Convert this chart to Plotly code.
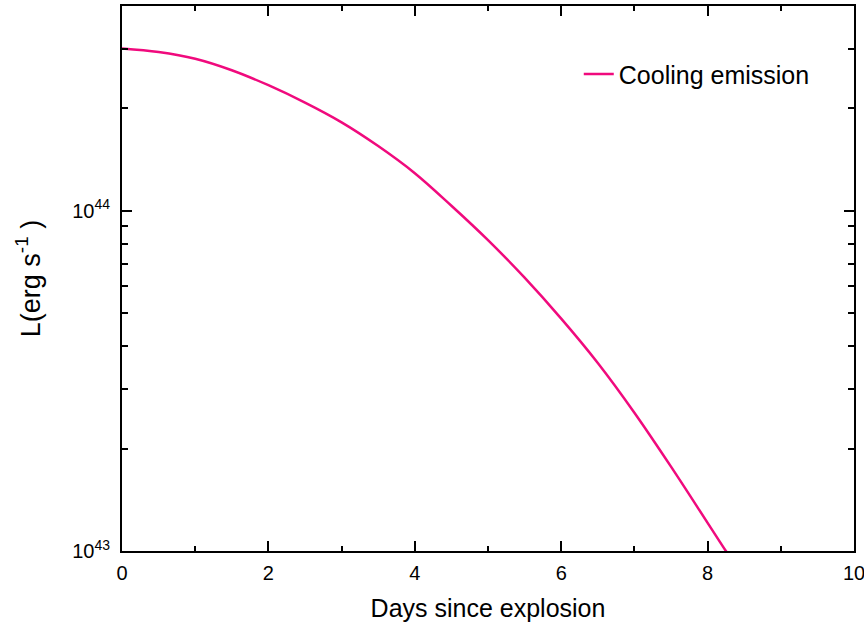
import plotly.graph_objects as go
import numpy as np

days = [0, 0.5, 1, 1.5, 2, 2.5, 3, 3.5, 4, 4.5, 5, 5.5, 6, 6.5, 7, 7.5, 8, 8.25, 8.35]
lum = [3.0e44, 2.93e44, 2.80e44, 2.59e44, 2.34e44, 2.08e44, 1.82e44, 1.55e44, 1.29e44,
       1.035e44, 8.2e43, 6.36e43, 4.82e43, 3.57e43, 2.55e43, 1.77e43, 1.21e43, 1.0e43, 0.93e43]

x_major = [0, 2, 4, 6, 8, 10]
x_minor = [1, 3, 5, 7, 9]
y_major = [1e43, 1e44]
y_major_text = ["10<sup>43</sup>", "10<sup>44</sup>"]
y_minor = [2e43, 3e43, 4e43, 5e43, 6e43, 7e43, 8e43, 9e43, 2e44, 3e44, 4e44]

fig = go.Figure()
fig.add_trace(go.Scatter(x=days, y=lum, mode="lines", name="Cooling emission",
                         line=dict(color="rgb(240,10,125)", width=2.5, shape="spline", smoothing=1.0)))

axis_common = dict(showline=True, linecolor="black", linewidth=2, mirror="ticks",
                   ticks="inside", tickcolor="black", tickwidth=2, ticklen=10,
                   showgrid=False, zeroline=False, automargin=False)

fig.update_xaxes(range=[0, 10], tickvals=x_major, ticktext=[str(v) for v in x_major],
                 tickfont=dict(size=20, color="black"), ticklabelstandoff=3,
                 ticklabeloverflow="allow",
                 title=dict(text="Days since explosion", font=dict(size=25, color="black"), standoff=16),
                 minor=dict(tickvals=x_minor, ticks="inside", ticklen=5, tickwidth=2, tickcolor="black"),
                 **axis_common)
fig.update_yaxes(type="log", range=[43, np.log10(4e44)], tickvals=y_major, ticktext=y_major_text,
                 tickfont=dict(size=20, color="black"), ticklabelstandoff=6,
                 title=dict(text="L(erg s<sup>-1</sup> )", font=dict(size=27, color="black"), standoff=24),
                 minor=dict(tickvals=y_minor, ticks="inside", ticklen=6, tickwidth=2, tickcolor="black"),
                 **axis_common)

fig.update_layout(width=864, height=628, margin=dict(l=122, r=10, t=6, b=77),
                  plot_bgcolor="white", paper_bgcolor="white",
                  font=dict(family="Liberation Sans, Arial, sans-serif", color="black"),
                  showlegend=True,
                  legend=dict(x=0.624, y=0.875, xanchor="left", yanchor="middle",
                              bgcolor="rgba(0,0,0,0)", font=dict(size=25, color="black")))

fig.write_html("out.html")
